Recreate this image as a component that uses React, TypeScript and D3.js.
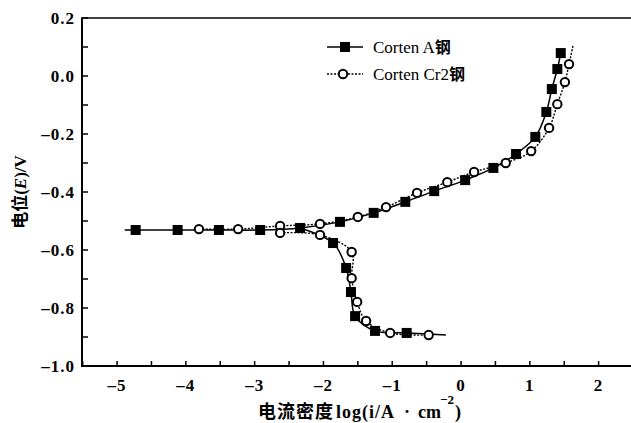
import * as d3 from "d3";
import React, { useEffect, useRef } from "react";

// Corten A steel (filled squares, solid line)
const aUpX = [-4.73, -4.12, -3.52, -2.92, -2.34, -1.76, -1.27, -0.81, -0.39, 0.06, 0.47, 0.8, 1.08, 1.24, 1.32, 1.4, 1.45];
const aUpY = [-0.531, -0.531, -0.531, -0.531, -0.524, -0.503, -0.472, -0.434, -0.397, -0.359, -0.317, -0.269, -0.21, -0.124, -0.045, 0.024, 0.079];
const aDownX = [-2.34, -1.86, -1.67, -1.6, -1.54, -1.25, -0.79];
const aDownY = [-0.524, -0.576, -0.662, -0.745, -0.828, -0.879, -0.886];

// Corten Cr2 steel (open circles, dotted line)
const bUpX = [-3.81, -3.24, -2.63, -2.05, -1.5, -1.09, -0.64, -0.2, 0.19, 0.65, 1.02, 1.28, 1.4, 1.51, 1.57];
const bUpY = [-0.528, -0.528, -0.517, -0.51, -0.486, -0.452, -0.403, -0.366, -0.331, -0.3, -0.259, -0.179, -0.097, -0.021, 0.041];
const bDownX = [-2.63, -2.05, -1.59, -1.59, -1.51, -1.38, -1.03, -0.47];
const bDownY = [-0.541, -0.548, -0.607, -0.697, -0.779, -0.845, -0.886, -0.893];

// line stubs beyond the last measured marks
const aStartX = -4.89, aStartY = -0.531;
const aEndX = -0.22, aEndY = -0.893;
const bEndX = 1.63, bEndY = 0.107;

const xTicks = [-5, -4, -3, -2, -1, 0, 1, 2];
const yTicks = [0.2, 0, -0.2, -0.4, -0.6, -0.8, -1.0];

const serif = "'Liberation Serif', 'Times New Roman', serif";
const cjk = "'Noto Sans CJK SC', sans-serif";

export default function App() {
  const svgRef = useRef<SVGSVGElement>(null);
  const W = 631, H = 423;

  useEffect(() => {
    const svg = d3.select(svgRef.current);
    svg.selectAll("*").remove();

    const x = d3.scaleLinear().domain([-5.51, 2.5]).range([82, 633]);
    const y = d3.scaleLinear().domain([-1.0, 0.2]).range([366, 18]);

    const toPts = (xs: number[], ys: number[]) => xs.map((v, i) => [v, ys[i]] as [number, number]);
    const line = d3.line<[number, number]>()
      .x(d => x(d[0]))
      .y(d => y(d[1]))
      .curve(d3.curveCatmullRom.alpha(0.5));

    // frame: left, bottom, top
    svg.append("line").attr("x1", 82).attr("x2", 82).attr("y1", 18).attr("y2", 366)
      .attr("stroke", "#000").attr("stroke-width", 2);
    svg.append("line").attr("x1", 81).attr("x2", 631).attr("y1", 366).attr("y2", 366)
      .attr("stroke", "#000").attr("stroke-width", 2);
    svg.append("line").attr("x1", 81).attr("x2", 631).attr("y1", 18).attr("y2", 18)
      .attr("stroke", "#000").attr("stroke-width", 1.5);

    // ticks (inward), major + half steps
    const yMinor = d3.range(-1.0, 0.21, 0.1);
    svg.append("g").selectAll("line").data(yMinor).enter().append("line")
      .attr("x1", 82).attr("x2", 88)
      .attr("y1", d => y(d)).attr("y2", d => y(d))
      .attr("stroke", "#000").attr("stroke-width", 1.5);
    const xMinor = d3.range(-5.5, 2.51, 0.5);
    svg.append("g").selectAll("line").data(xMinor).enter().append("line")
      .attr("x1", d => x(d)).attr("x2", d => x(d))
      .attr("y1", 366).attr("y2", 361)
      .attr("stroke", "#000").attr("stroke-width", 1.5);

    const fmt = d3.format(".1f");
    svg.append("g").selectAll("text").data(yTicks).enter().append("text")
      .attr("x", 75).attr("y", d => y(d) + 6)
      .attr("text-anchor", "end")
      .attr("font-family", serif).attr("font-weight", "bold").attr("font-size", 17)
      .attr("letter-spacing", 1)
      .text(d => fmt(d).replace("\u2212", "\u2013"));
    svg.append("g").selectAll("text").data(xTicks).enter().append("text")
      .attr("x", d => x(d)).attr("y", 391)
      .attr("text-anchor", "middle")
      .attr("font-family", serif).attr("font-weight", "bold").attr("font-size", 17)
      .attr("letter-spacing", 1)
      .text(d => d3.format("d")(d).replace("-", "\u2013").replace("\u2212", "\u2013"));

    // axis titles
    const xt = svg.append("text").attr("y", 418).attr("font-size", 18).attr("font-weight", "bold");
    xt.append("tspan").attr("x", 258).attr("font-family", cjk).attr("letter-spacing", 1).text("电流密度");
    xt.append("tspan").attr("x", 336).attr("font-family", serif).attr("letter-spacing", 1).text("log(i/A");
    xt.append("tspan").attr("x", 404).attr("font-family", serif).text("\u00b7");
    xt.append("tspan").attr("x", 418).attr("font-family", serif).text("cm");
    xt.append("tspan").attr("x", 440).attr("dy", -14).attr("font-family", serif).attr("font-size", 13).text("\u22122");
    xt.append("tspan").attr("x", 455).attr("dy", 14).attr("font-family", serif).text(")");

    const yt = svg.append("text").attr("transform", "translate(26,192) rotate(-90)")
      .attr("text-anchor", "middle").attr("font-size", 17).attr("font-weight", "bold");
    yt.append("tspan").attr("font-family", cjk).text("电位");
    yt.append("tspan").attr("font-family", serif).text("(");
    yt.append("tspan").attr("font-family", serif).attr("font-style", "italic").text("E");
    yt.append("tspan").attr("font-family", serif).text(")/V");

    // series lines
    const aUp = [[aStartX, aStartY] as [number, number], ...toPts(aUpX, aUpY)];
    const aDown = [...toPts(aDownX, aDownY), [aEndX, aEndY] as [number, number]];
    const bUp = [...toPts(bUpX, bUpY), [bEndX, bEndY] as [number, number]];
    const bDown = toPts(bDownX, bDownY);

    [bUp, bDown].forEach(p => {
      svg.append("path").attr("d", line(p)!).attr("fill", "none")
        .attr("stroke", "#000").attr("stroke-width", 1.4).attr("stroke-dasharray", "2,1.5");
    });
    [aUp, aDown].forEach(p => {
      svg.append("path").attr("d", line(p)!).attr("fill", "none")
        .attr("stroke", "#000").attr("stroke-width", 1.5);
    });

    // markers
    const sq = 10;
    const aMarks = [...toPts(aUpX, aUpY), ...toPts(aDownX, aDownY).slice(1)];
    svg.append("g").selectAll("rect").data(aMarks).enter().append("rect")
      .attr("x", d => x(d[0]) - sq / 2).attr("y", d => y(d[1]) - sq / 2)
      .attr("width", sq).attr("height", sq).attr("fill", "#000");
    const bMarks = [...toPts(bUpX, bUpY), ...toPts(bDownX, bDownY)];
    svg.append("g").selectAll("circle").data(bMarks).enter().append("circle")
      .attr("cx", d => x(d[0])).attr("cy", d => y(d[1])).attr("r", 4.2)
      .attr("fill", "#fff").attr("stroke", "#000").attr("stroke-width", 2);

    // legend
    const lg = svg.append("g");
    lg.append("line").attr("x1", 327).attr("x2", 363).attr("y1", 47).attr("y2", 47)
      .attr("stroke", "#000").attr("stroke-width", 1.5);
    lg.append("rect").attr("x", 340).attr("y", 42).attr("width", sq).attr("height", sq).attr("fill", "#000");
    lg.append("line").attr("x1", 327).attr("x2", 363).attr("y1", 74).attr("y2", 74)
      .attr("stroke", "#000").attr("stroke-width", 1.4).attr("stroke-dasharray", "2,1.5");
    lg.append("circle").attr("cx", 343).attr("cy", 74).attr("r", 4.2)
      .attr("fill", "#fff").attr("stroke", "#000").attr("stroke-width", 2);
    [["Corten A", 53], ["Corten Cr2", 80]].forEach(([t, yy]) => {
      const tx = lg.append("text").attr("x", 373).attr("y", yy as number).attr("font-size", 17);
      tx.append("tspan").attr("font-family", serif).text(t as string);
      tx.append("tspan").attr("font-family", cjk).attr("font-weight", "bold").attr("font-size", 16).text("钢");
    });
  }, []);

  return (
    <svg ref={svgRef} width={W} height={H}
      style={{ position: "absolute", left: 0, top: 0, background: "#fff" }} />
  );
}
